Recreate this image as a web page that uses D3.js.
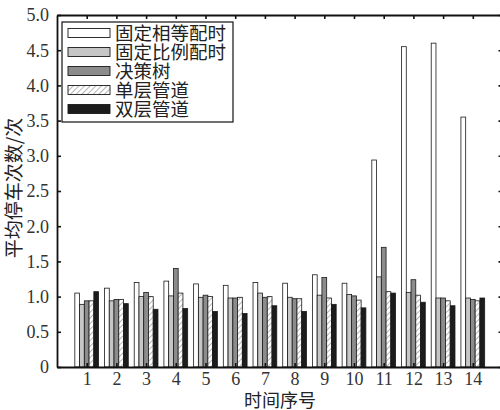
<!DOCTYPE html>
<html>
<head>
<meta charset="utf-8">
<script src="https://cdn.jsdelivr.net/npm/d3@7"></script>
<style>
  body { margin: 0; background: #fff; }
  svg { display: block; }
</style>
</head>
<body>
<div id="chart"></div>
<script>
// data
var periods = ["1","2","3","4","5","6","7","8","9","10","11","12","13","14"];
var seriesNames = ["固定相等配时", "固定比例配时", "决策树", "单层管道", "双层管道"];
var fixedEqual  = [1.05, 1.12, 1.20, 1.22, 1.18, 1.16, 1.20, 1.19, 1.31, 1.19, 2.94, 4.55, 4.60, 3.55];
var fixedRatio  = [0.89, 0.94, 1.00, 1.01, 0.99, 0.98, 1.05, 0.99, 1.02, 1.03, 1.28, 1.06, 0.98, 0.98];
var decisionTree= [0.94, 0.96, 1.06, 1.40, 1.02, 0.98, 0.99, 0.97, 1.27, 1.01, 1.70, 1.24, 0.98, 0.96];
var singlePipe  = [0.94, 0.96, 1.00, 1.05, 1.00, 0.99, 1.00, 0.97, 0.98, 0.95, 1.07, 1.02, 0.94, 0.94];
var doublePipe  = [1.07, 0.90, 0.82, 0.83, 0.79, 0.76, 0.87, 0.79, 0.89, 0.84, 1.05, 0.92, 0.87, 0.98];
var yTicks = [0, 0.5, 1.0, 1.5, 2.0, 2.5, 3.0, 3.5, 4.0, 4.5, 5.0];

var series = [fixedEqual, fixedRatio, decisionTree, singlePipe, doublePipe];
var fills = ["#ffffff", "#c6c6c6", "#8c8c8c", "url(#hatch)", "#1c1c1c"];

var W = 500, H = 410;
// plot box (note: "top" is taken by window.top, so use other names)
var pLeft = 57, pRight = 502.5, pTop = 15, pBottom = 367;

var svg = d3.select("#chart").append("svg")
    .attr("width", W).attr("height", H);

var defs = svg.append("defs");
var pat = defs.append("pattern")
    .attr("id", "hatch")
    .attr("patternUnits", "userSpaceOnUse")
    .attr("width", 4).attr("height", 4)
    .attr("patternTransform", "rotate(45)");
pat.append("rect").attr("width", 4).attr("height", 4).attr("fill", "#fff");
pat.append("line").attr("x1", 0).attr("y1", 0).attr("x2", 0).attr("y2", 4)
    .attr("stroke", "#777").attr("stroke-width", 1.1);

var x = d3.scaleLinear().domain([0, 15]).range([pLeft, pRight]);
var y = d3.scaleLinear().domain([0, 5]).range([pBottom, pTop]);

var groupW = 0.8, barW = groupW / series.length;

// bars
series.forEach(function(vals, s) {
  svg.append("g").selectAll("rect")
    .data(vals)
    .enter().append("rect")
      .attr("x", function(d, i) { return x(i + 1 - groupW / 2 + s * barW); })
      .attr("width", x(barW) - x(0))
      .attr("y", function(d) { return y(d); })
      .attr("height", function(d) { return y(0) - y(d); })
      .attr("fill", fills[s])
      .attr("stroke", "#1a1a1a")
      .attr("stroke-width", 0.8);
});

// axes (ticks inward, labels on left/bottom)
var tickFont = "Liberation Serif, DejaVu Serif, serif";
var xt = periods.map(function(p, i) { return i + 1; });

var yAxisL = svg.append("g").attr("transform", "translate(" + pLeft + ",0)")
  .call(d3.axisLeft(y).tickValues(yTicks).tickSizeInner(-4).tickSizeOuter(0).tickPadding(8)
        .tickFormat(function(d) { return d === 0 ? "0" : d3.format(".1f")(d); }));
var yAxisR = svg.append("g").attr("transform", "translate(" + pRight + ",0)")
  .call(d3.axisRight(y).tickValues(yTicks).tickSizeInner(-4).tickSizeOuter(0).tickFormat(""));
var xAxisB = svg.append("g").attr("transform", "translate(0," + pBottom + ")")
  .call(d3.axisBottom(x).tickValues(xt).tickSizeInner(-4).tickSizeOuter(0).tickPadding(5)
        .tickFormat(function(d) { return periods[d - 1]; }));
var xAxisT = svg.append("g").attr("transform", "translate(0," + pTop + ")")
  .call(d3.axisTop(x).tickValues(xt).tickSizeInner(-4).tickSizeOuter(0).tickFormat(""));

[yAxisL, yAxisR, xAxisB, xAxisT].forEach(function(a) {
  a.select(".domain").attr("stroke", "#111").attr("stroke-width", 1.8);
  a.selectAll(".tick line").attr("stroke", "#111").attr("stroke-width", 1.6);
  a.selectAll(".tick text").attr("font-family", tickFont).attr("font-size", 18).attr("fill", "#333");
});
yAxisL.selectAll(".tick text").attr("dy", "0.33em");

// axis titles
var cjk = "Noto Sans CJK SC, sans-serif";
svg.append("text")
  .attr("transform", "translate(21,188) rotate(-90)")
  .attr("text-anchor", "middle")
  .attr("font-family", cjk).attr("font-size", 19).attr("fill", "#222")
  .text("平均停车次数/次");
svg.append("text")
  .attr("x", 280).attr("y", 407)
  .attr("text-anchor", "middle")
  .attr("font-family", cjk).attr("font-size", 18).attr("fill", "#222")
  .text("时间序号");

// legend
var lg = svg.append("g");
lg.append("rect").attr("x", 62).attr("y", 22).attr("width", 171).attr("height", 100)
  .attr("fill", "#fff").attr("stroke", "#111").attr("stroke-width", 1.2);
seriesNames.forEach(function(name, s) {
  var cy = 33 + s * 19;
  lg.append("rect").attr("x", 68).attr("y", cy - 4.5).attr("width", 42).attr("height", 9)
    .attr("fill", fills[s]).attr("stroke", "#1a1a1a").attr("stroke-width", 0.9);
  lg.append("text").attr("x", 115).attr("y", cy).attr("dy", "0.36em")
    .attr("font-family", cjk).attr("font-size", 18.5).attr("fill", "#222")
    .text(name);
});
</script>
</body>
</html>
